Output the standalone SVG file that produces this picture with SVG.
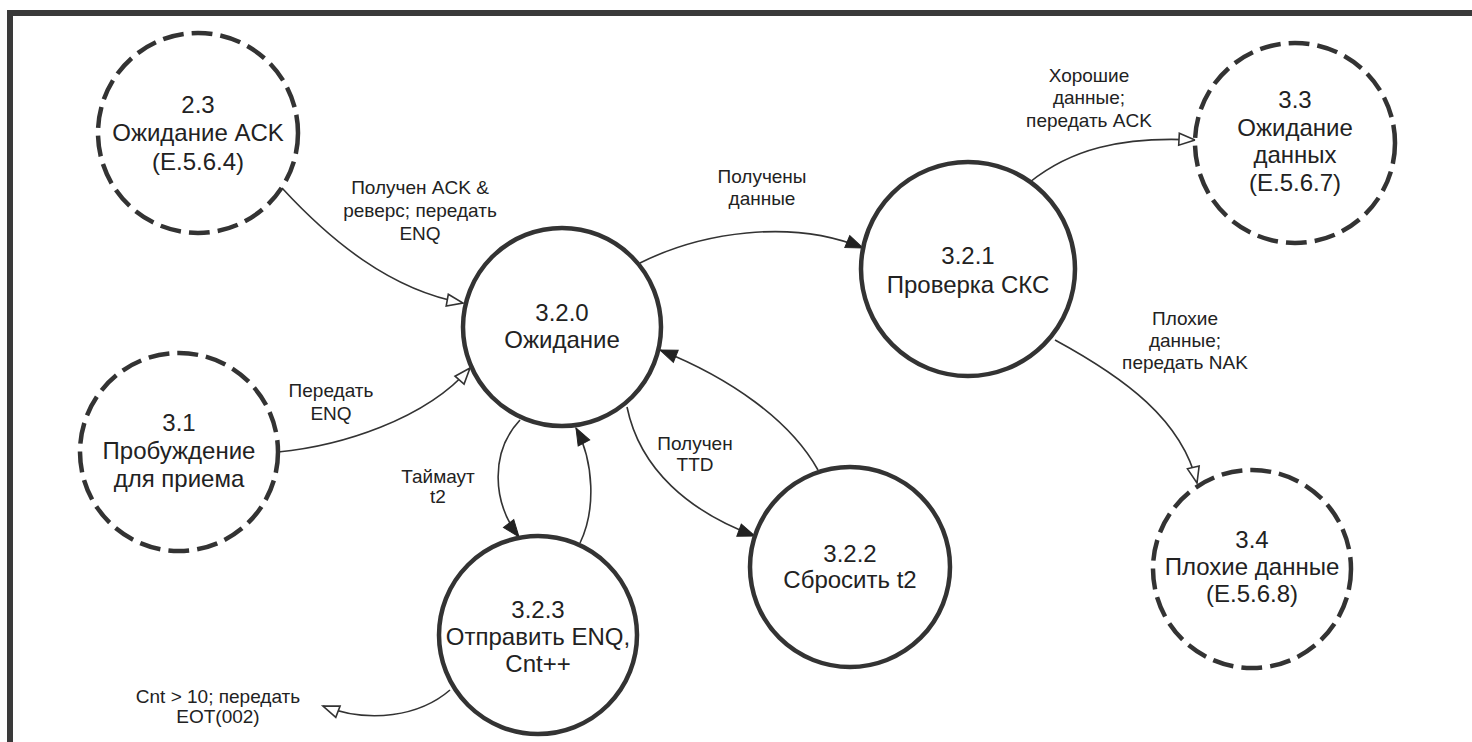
<svg xmlns="http://www.w3.org/2000/svg" width="1472" height="742" viewBox="0 0 1472 742">
<defs>
<style>
.frame{fill:none;stroke:#3a3a3a;stroke-width:6}
.node{fill:#fff;stroke:#333;stroke-width:4.5}
.dash{stroke-dasharray:21 8}
.nt{font-family:"Liberation Sans",Arial,sans-serif;font-size:24px;fill:#222;text-anchor:middle}
.lt{font-family:"Liberation Sans",Arial,sans-serif;font-size:19px;fill:#222;text-anchor:middle}
.c{fill:none;stroke:#333;stroke-width:1.6}
.cf{marker-end:url(#fill)}
.co{marker-end:url(#open)}
</style>
<marker id="fill" markerUnits="userSpaceOnUse" markerWidth="20" markerHeight="16" viewBox="0 0 20 16" refX="18" refY="8" orient="auto">
<path d="M1,1.5 L18,8 L1,14.5 Z" fill="#222" stroke="#222" stroke-width="1"/>
</marker>
<marker id="open" markerUnits="userSpaceOnUse" markerWidth="20" markerHeight="16" viewBox="0 0 20 16" refX="18" refY="8" orient="auto">
<path d="M2,2 L18,8 L2,14 Z" fill="#fff" stroke="#333" stroke-width="1.6"/>
</marker>
</defs>
<rect width="1472" height="742" fill="#fff"/>
<path class="frame" d="M10,742 V13 H1472"/>

<g id="connectors">
<path class="c co" d="M282,188 C330,240 390,290 463,303"/>
<path class="c co" d="M278,452 C340,446 425,420 470,368"/>
<path class="c cf" d="M640,263 C700,233 790,218 863,248"/>
<path class="c co" d="M1030,182 C1070,150 1120,136 1195,140"/>
<path class="c co" d="M1055,340 C1125,378 1182,420 1197,483"/>
<path class="c cf" d="M520,420 C490,452 492,502 519,537"/>
<path class="c cf" d="M580,543 C596,510 594,462 576,428"/>
<path class="c cf" d="M627,407 C640,470 690,512 755,536"/>
<path class="c cf" d="M818,470 C790,420 730,378 660,350"/>
<path class="c co" d="M450,690 C420,716 370,724 323,706"/>
<text class="lt" x="420" y="194">Получен ACK &amp;</text>
<text class="lt" x="420" y="217">реверс; передать</text>
<text class="lt" x="420" y="240">ENQ</text>
<text class="lt" x="331" y="397">Передать</text>
<text class="lt" x="331" y="420">ENQ</text>
<text class="lt" x="762" y="183">Получены</text>
<text class="lt" x="762" y="205">данные</text>
<text class="lt" x="1089" y="82">Хорошие</text>
<text class="lt" x="1089" y="104">данные;</text>
<text class="lt" x="1089" y="127">передать ACK</text>
<text class="lt" x="1185" y="325">Плохие</text>
<text class="lt" x="1185" y="347">данные;</text>
<text class="lt" x="1185" y="369">передать NAK</text>
<text class="lt" x="438" y="483">Таймаут</text>
<text class="lt" x="438" y="503">t2</text>
<text class="lt" x="695" y="450">Получен</text>
<text class="lt" x="695" y="471">TTD</text>
<text class="lt" x="218" y="703">Cnt &gt; 10; передать</text>
<text class="lt" x="218" y="723">EOT(002)</text>
</g>

<g id="n23">
<circle class="node dash" cx="198" cy="133" r="100"/>
<text class="nt" x="198" y="113">2.3</text>
<text class="nt" x="198" y="141">Ожидание ACK</text>
<text class="nt" x="198" y="170">(E.5.6.4)</text>
</g>
<g id="n31">
<circle class="node dash" cx="179" cy="452" r="99"/>
<text class="nt" x="179" y="431">3.1</text>
<text class="nt" x="179" y="459">Пробуждение</text>
<text class="nt" x="179" y="487">для приема</text>
</g>
<g id="n320">
<circle class="node" cx="562" cy="327" r="99"/>
<text class="nt" x="562" y="321">3.2.0</text>
<text class="nt" x="562" y="348">Ожидание</text>
</g>
<g id="n321">
<circle class="node" cx="968" cy="269" r="107"/>
<text class="nt" x="968" y="264">3.2.1</text>
<text class="nt" x="968" y="293">Проверка СКС</text>
</g>
<g id="n33">
<circle class="node dash" cx="1295" cy="143" r="100"/>
<text class="nt" x="1295" y="108">3.3</text>
<text class="nt" x="1295" y="136">Ожидание</text>
<text class="nt" x="1295" y="163">данных</text>
<text class="nt" x="1295" y="191">(E.5.6.7)</text>
</g>
<g id="n34">
<circle class="node dash" cx="1252" cy="569" r="99"/>
<text class="nt" x="1252" y="548">3.4</text>
<text class="nt" x="1252" y="575">Плохие данные</text>
<text class="nt" x="1252" y="602">(E.5.6.8)</text>
</g>
<g id="n322">
<circle class="node" cx="850" cy="567" r="100"/>
<text class="nt" x="850" y="562">3.2.2</text>
<text class="nt" x="850" y="588">Сбросить t2</text>
</g>
<g id="n323">
<circle class="node" cx="538" cy="635" r="99"/>
<text class="nt" x="538" y="618">3.2.3</text>
<text class="nt" x="538" y="645">Отправить ENQ,</text>
<text class="nt" x="538" y="672">Cnt++</text>
</g>
</svg>
